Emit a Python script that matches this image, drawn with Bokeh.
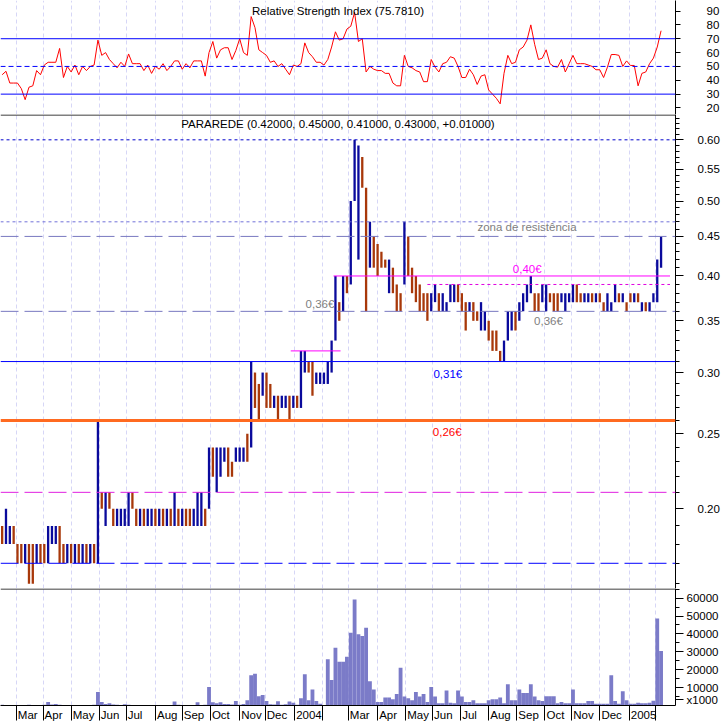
import pandas as pd
from bokeh.plotting import figure
from bokeh.layouts import column
from bokeh.models import (Range1d, FixedTicker, Span, Label, Grid,
                          PrintfTickFormatter, ColumnDataSource, GlobalInlineStyleSheet)
from bokeh.embed import file_html
from bokeh.resources import INLINE

FONT = "Liberation Sans"

# ---------------- data (3-trading-day bars, prices in euro cents) ----------------
first_day = "2003-02-12"
days_per_bar = 3

bar_low = [18, 18, 18, 18, 17, 17, 17, 16, 16, 17,
           17, 17, 17, 18, 18, 17, 17, 17, 17, 17,
           17, 17, 17, 17, 17, 17, 20, 19, 20, 19,
           19, 19, 19, 19, 20, 19, 19, 19, 19, 19,
           19, 19, 19, 19, 19, 19, 19, 19, 19, 19,
           19, 19, 19, 19, 20, 22, 21, 22, 23, 22,
           22, 23, 23, 23, 23, 24, 27, 26, 28, 27,
           27, 27, 26, 27, 27, 26, 27, 27, 27, 30,
           30, 28, 29, 29, 29, 29, 30, 33, 35, 36,
           38, 39, 50, 42, 52, 36, 41, 41, 40, 41,
           41, 38, 38, 36, 36, 39, 40, 38, 37, 36,
           36, 35, 36, 37, 36, 36, 36, 37, 37, 37,
           36, 34, 36, 35, 35, 34, 34, 33, 32, 32,
           31, 31, 33, 34, 34, 35, 36, 37, 38, 36,
           36, 37, 36, 37, 36, 36, 37, 36, 37, 37,
           37, 37, 37, 37, 37, 37, 37, 36, 36, 36,
           37, 37, 37, 36, 37, 37, 37, 36, 36, 36,
           37, 37, 41]

bar_high = [19, 20, 19, 19, 18, 18, 18, 18, 18, 18,
            18, 18, 19, 19, 19, 19, 18, 18, 18, 18,
            18, 18, 18, 18, 18, 26, 21, 21, 21, 20,
            20, 20, 20, 21, 21, 20, 20, 20, 20, 20,
            20, 20, 20, 20, 20, 21, 20, 20, 20, 20,
            20, 21, 21, 20, 24, 24, 24, 24, 24, 24,
            23, 24, 24, 24, 25, 31, 30, 29, 30, 30,
            29, 28, 28, 28, 28, 28, 28, 28, 32, 32,
            31, 31, 30, 30, 30, 31, 33, 40, 37, 40,
            40, 50, 60, 59, 57, 52, 47, 45, 44, 43,
            42, 42, 41, 39, 38, 47, 45, 41, 40, 39,
            38, 38, 38, 39, 38, 38, 37, 39, 39, 39,
            38, 37, 37, 37, 36, 37, 36, 35, 34, 34,
            32, 33, 36, 36, 36, 37, 38, 39, 40, 38,
            38, 39, 39, 38, 38, 38, 38, 38, 38, 39,
            39, 38, 38, 38, 38, 38, 38, 37, 38, 37,
            39, 38, 38, 37, 38, 38, 38, 37, 37, 37,
            38, 42, 45]

bar_up = [0, 1, 1, 0, 0, 0, 1, 0, 0, 1,
          0, 0, 1, 1, 1, 0, 0, 1, 0, 1,
          0, 1, 0, 1, 0, 1, 0, 1, 0, 0,
          1, 1, 1, 1, 0, 0, 1, 0, 1, 1,
          0, 1, 0, 1, 0, 1, 0, 1, 0, 0,
          1, 1, 1, 0, 1, 0, 1, 1, 1, 0,
          0, 1, 1, 1, 0, 1, 0, 0, 1, 0,
          0, 1, 0, 1, 1, 0, 1, 0, 1, 1,
          0, 0, 1, 1, 1, 1, 1, 1, 0, 1,
          0, 1, 1, 1, 0, 0, 1, 0, 0, 0,
          0, 1, 0, 0, 0, 1, 0, 0, 0, 0,
          0, 0, 1, 1, 0, 1, 1, 1, 1, 0,
          0, 0, 1, 0, 0, 1, 1, 0, 0, 0,
          0, 1, 1, 1, 0, 1, 1, 1, 1, 0,
          0, 1, 1, 0, 0, 0, 1, 1, 1, 1,
          0, 0, 1, 1, 0, 1, 0, 0, 1, 1,
          1, 0, 1, 0, 0, 1, 0, 1, 0, 1,
          1, 1, 1]

rsi = [44, 46.5, 38, 38, 38, 34, 26, 35, 36, 47,
       44, 51, 53, 53, 53, 63, 42, 50, 46, 51,
       44, 50, 47, 50, 51, 69, 58, 60, 55, 52,
       49, 53, 50, 59, 52, 52, 52, 47, 51, 45,
       50, 48, 52, 47, 50, 54, 54, 48, 52, 49,
       54, 54, 54, 43, 60, 68, 56, 62, 63.5, 63.5,
       55, 61.5, 70, 60, 58, 86, 78, 62, 60, 58,
       53, 54, 50, 52, 48, 44, 51, 50, 52, 67,
       60, 57, 53, 53, 51, 55, 64, 75, 69, 70,
       77, 79, 89, 68, 70, 46, 50, 48, 47, 47,
       45, 45, 38, 36, 36, 58, 50, 49, 47, 46,
       39, 39, 55, 49.5, 46, 52, 53, 57, 56, 50,
       42, 42, 48, 44, 37, 43, 44, 33, 30, 27,
       23, 45, 58, 52, 53, 62, 64, 69, 80, 66,
       55, 56, 62, 52, 50, 49.5, 55, 46, 52, 58,
       52, 52, 52, 51, 50, 47.6, 47.6, 42, 49.5, 58.6,
       58.6, 58, 50, 54, 50.7, 50.7, 36, 45, 46, 52,
       56, 64, 75.781]

volume = [400, 300, 300, 200, 300, 200, 300, 400, 300, 200,
          300, 400, 2000, 500, 900, 400, 300, 300, 200, 300,
          300, 300, 200, 300, 400, 7500, 2000, 800, 1200, 600,
          400, 300, 700, 400, 300, 300, 300, 300, 300, 300,
          300, 300, 300, 300, 300, 2300, 400, 300, 300, 300,
          300, 1800, 300, 400, 10300, 1800, 1200, 1800, 800, 800,
          500, 2500, 400, 800, 3000, 16900, 17800, 5200, 5800, 2500,
          700, 600, 2400, 400, 700, 2200, 1500, 400, 4000, 17400,
          3000, 9000, 2500, 1000, 300, 25800, 14300, 32300, 24400, 24400,
          27300, 40700, 59300, 39800, 38800, 43500, 13600, 9000, 2000, 2000,
          4500, 4500, 3500, 6400, 21100, 5000, 4000, 3000, 7600, 5000,
          6400, 2000, 10300, 5000, 1200, 1200, 8400, 1500, 1200, 8400,
          5000, 2000, 2000, 3000, 1200, 1200, 1200, 3000, 3500, 3500,
          4500, 1200, 11900, 3000, 3000, 8900, 7000, 7000, 11900, 5000,
          3000, 2500, 5200, 5200, 5200, 1200, 2000, 1200, 1200, 8900,
          1200, 1200, 1200, 2500, 2500, 1000, 1000, 1000, 1000, 16900,
          2500, 1000, 8000, 3000, 1000, 1000, 1500, 1200, 1200, 1500,
          2700, 48700, 30500]

last_ohlc = [0.42, 0.45, 0.41, 0.43]
last_change = 0.01

full_levels = [0.60, 0.47, 0.45, 0.36, 0.31, 0.26, 0.21, 0.17]
seg_levels = [0.40, 0.39, 0.32]
seg_start_day = [261.5, 335.0, 228.0]
seg_end_day = [525.0, 525.0, 267.0]
rsi_levels = [70, 50, 30]

price_ticks = [0.20, 0.25, 0.30, 0.35, 0.40, 0.45, 0.50, 0.55, 0.60]
price_minor = [c / 100 for c in range(16, 65)]
rsi_ticks = [20, 30, 40, 50, 60, 70, 80, 90]
vol_ticks = [10000, 20000, 30000, 40000, 50000, 60000]
vol_minor = list(range(5000, 65001, 5000))
vol_unit_label = "x1000"

# ---------------- derived ----------------
n = len(bar_low)
bar_x = [days_per_bar * i + 2 for i in range(n)]
lows = [c / 100 for c in bar_low]
highs = [c / 100 for c in bar_high]
UP, DOWN = "#0a0a9c", "#a8380a"
colors = [UP if u else DOWN for u in bar_up]

X0, X1 = 0.7, 529.3
FRAME_W = 675
px_per_day = FRAME_W / (X1 - X0)

cal = pd.bdate_range(first_day, periods=n * days_per_bar + 20)
month_starts = [d for d in range(1, len(cal))
                if cal[d].month != cal[d - 1].month and d < X1]

# approx Arial advance widths (per 1000 em) to put month labels right of their tick
AW = {"M": 833, "a": 556, "r": 333, "A": 667, "p": 556, "y": 500, "J": 500, "u": 556,
      "n": 556, "l": 222, "g": 556, "S": 667, "e": 556, "O": 778, "c": 500, "t": 278,
      "N": 722, "o": 556, "v": 500, "D": 722}
LBL_SIZE = 11.5
label_pos, label_text = [], {}
for d in month_starts:
    dt = cal[d]
    if dt.month == 2:
        continue
    txt = str(dt.year) if dt.month == 1 else dt.strftime("%b")
    w = sum(AW.get(ch, 556) for ch in txt) * LBL_SIZE / 1000
    pos = round(d + (w / 2 + 1.6) / px_per_day, 2)
    label_pos.append(pos)
    label_text[pos] = txt

xr = Range1d(X0, X1)


def make_fig(frame_h, y_range, y_type="linear", x_loc=None, bottom=0):
    p = figure(frame_width=FRAME_W, frame_height=frame_h, x_range=xr, y_range=y_range,
               y_axis_type=y_type, x_axis_location=x_loc, y_axis_location="right",
               output_backend="svg", toolbar_location=None,
               min_border_left=0, min_border_right=49, min_border_top=0,
               min_border_bottom=bottom)
    p.outline_line_color = None
    p.background_fill_color = "white"
    p.border_fill_color = "white"
    for g in p.ygrid:
        g.visible = False
    for g in p.xgrid:
        g.visible = False
    p.add_layout(Grid(dimension=0, ticker=FixedTicker(ticks=month_starts),
                      grid_line_color="#d6d6f6", grid_line_dash="4 3", grid_line_width=1))
    ax = p.yaxis[0]
    ax.axis_line_color = "black"
    ax.major_tick_line_color = "black"
    ax.minor_tick_line_color = "black"
    ax.major_tick_in = 0
    ax.minor_tick_in = 0
    ax.major_label_text_font = FONT
    ax.major_label_text_font_size = f"{LBL_SIZE}px"
    ax.major_label_text_color = "black"
    return p


# ---------------- RSI panel ----------------
p1 = make_fig(114, Range1d(15.3, 97.6))
p1.yaxis.ticker = FixedTicker(ticks=rsi_ticks)
p1.yaxis.major_tick_out = 5
p1.yaxis.minor_tick_out = 0
p1.yaxis.major_label_standoff = 26
for lv, dash in zip(rsi_levels, ["solid", "5 3", "solid"]):
    p1.add_layout(Span(location=lv, dimension="width", line_color="#0000ff",
                       line_width=1, line_dash=dash))
p1.line(bar_x, rsi, line_color="#ff0000", line_width=1)
p1.add_layout(Label(x=(X0 + X1) / 2, y=97.6, y_offset=-10.5,
                    text=f"Relative Strength Index ({rsi[-1]:.4f})",
                    text_align="center", text_baseline="middle",
                    text_font=FONT, text_font_size="11.5px", text_color="black"))

# ---------------- price panel ----------------
PY0, PY1 = 0.1577, 0.647
p2 = make_fig(474, Range1d(PY0, PY1), y_type="log")
p2.yaxis.ticker = FixedTicker(ticks=price_ticks, minor_ticks=price_minor)
p2.yaxis.formatter = PrintfTickFormatter(format="%.2f")
p2.yaxis.major_tick_out = 8
p2.yaxis.minor_tick_out = 4
p2.yaxis.major_label_standoff = 14
p2.add_layout(Span(location=PY1 * (PY0 / PY1) ** (0.5 / 474), dimension="width",
                   line_color="black", line_width=1))

full_styles = [("#0000cc", "3 3", 1), ("#7070d8", "3 3", 1), ("#7878c0", "18 6", 1),
               ("#7878c0", "18 6", 1), ("#0000ff", "solid", 1), ("#ff6a20", "solid", 3),
               ("#e020e0", "18 6", 1), ("#0000ff", "18 6", 1)]
for lv, (c, dsh, w) in zip(full_levels, full_styles):
    p2.add_layout(Span(location=lv, dimension="width", line_color=c,
                       line_dash=dsh, line_width=w))

src = ColumnDataSource(dict(x=bar_x, low=lows, high=highs, color=colors))
p2.vbar(x="x", width=1.8, bottom="low", top="high", fill_color="color",
        line_color=None, source=src)

seg_styles = [("#ff00ff", "solid"), ("#e000e0", "3 3"), ("#ff00ff", "solid")]
for lv, s0, s1, (c, dsh) in zip(seg_levels, seg_start_day, seg_end_day, seg_styles):
    p2.segment(x0=[s0], y0=[lv], x1=[s1], y1=[lv], line_color=c, line_dash=dsh, line_width=1)

o, h, l, c = last_ohlc
p2.add_layout(Label(x=(X0 + X1) / 2, y=PY1, y_offset=-9,
                    text=f"PARAREDE ({o:.5f}, {h:.5f}, {l:.5f}, {c:.5f}, {last_change:+.5f})",
                    text_align="center", text_baseline="middle",
                    text_font=FONT, text_font_size="11.5px", text_color="black"))

annotations = [("zona de resistência", 413.0, 0.45, 9.3, "#808080"),
               ("0,40€", 413.2, 0.40, 7.2, "#ff00ff"),
               ("0,36€", 250.9, 0.36, 6.9, "#808080"),
               ("0,36€", 429.8, 0.36, -9.8, "#808080"),
               ("0,31€", 351.0, 0.31, -12.2, "#0000ff"),
               ("0,26€", 350.5, 0.26, -11.5, "#ff0000")]
for txt, ax_, ay, off, col in annotations:
    p2.add_layout(Label(x=ax_, y=ay, y_offset=off, text=txt, text_align="center",
                        text_baseline="middle", text_font=FONT,
                        text_font_size="11.5px", text_color=col))

# ---------------- volume panel ----------------
VY1 = 65400
p3 = make_fig(117, Range1d(0, VY1), x_loc="below", bottom=16)
unit_tick = 3300
p3.yaxis.ticker = FixedTicker(ticks=[unit_tick] + vol_ticks, minor_ticks=vol_minor)
p3.yaxis.formatter = PrintfTickFormatter(format="%d")
p3.yaxis.major_label_overrides = {unit_tick: vol_unit_label}
p3.yaxis.major_tick_out = 8
p3.yaxis.minor_tick_out = 4
p3.yaxis.major_label_standoff = 3
p3.add_layout(Span(location=VY1 - 0.5 * VY1 / 117, dimension="width",
                   line_color="black", line_width=1))
p3.vbar(x=bar_x, width=days_per_bar, bottom=0, top=volume,
        fill_color="#7b7bc8", line_color=None)

xa = p3.xaxis[0]
xa.ticker = FixedTicker(ticks=label_pos, minor_ticks=month_starts)
xa.major_label_overrides = label_text
xa.major_tick_out = 0
xa.major_tick_in = 0
xa.minor_tick_out = 15
xa.minor_tick_in = 0
xa.minor_tick_line_color = "black"
xa.axis_line_color = "black"
xa.major_label_standoff = -12
xa.major_label_text_font = FONT
xa.major_label_text_font_size = f"{LBL_SIZE}px"
xa.major_label_text_color = "black"

layout = column(p1, p2, p3, spacing=0,
                stylesheets=[GlobalInlineStyleSheet(css="html, body { margin: 0; padding: 0; overflow: hidden; }")])

open("out.html", "w").write(file_html(layout, INLINE))
